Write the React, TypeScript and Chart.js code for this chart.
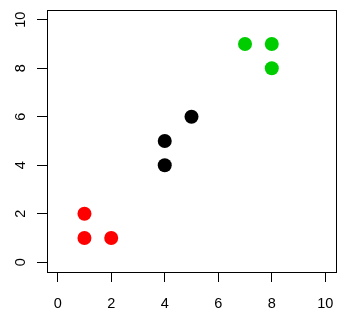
import React, { useEffect, useRef } from "react";
import { Chart, registerables } from "chart.js";

Chart.register(...registerables);

const redX = [1, 1, 2];
const redY = [1, 2, 1];
const blackX = [4, 4, 5];
const blackY = [4, 5, 6];
const greenX = [7, 8, 8];
const greenY = [9, 9, 8];
const tickValues = [0, 2, 4, 6, 8, 10];

const FONT = "14.5px 'Liberation Sans', Arial, sans-serif";

const toPts = (xs: number[], ys: number[]) => xs.map((x, i) => ({ x, y: ys[i] }));

const rStyle = {
  id: "rStyle",
  afterDraw(chart: any) {
    const { ctx, chartArea } = chart;
    const xs = chart.scales.x;
    const ys = chart.scales.y;
    ctx.save();
    ctx.strokeStyle = "#000";
    ctx.lineWidth = 1;
    ctx.strokeRect(
      Math.round(chartArea.left) + 0.5,
      Math.round(chartArea.top) + 0.5,
      Math.round(chartArea.right) - Math.round(chartArea.left),
      Math.round(chartArea.bottom) - Math.round(chartArea.top)
    );
    ctx.fillStyle = "#000";
    ctx.font = FONT;
    ctx.textAlign = "center";
    ctx.textBaseline = "middle";
    tickValues.forEach((v) => {
      ctx.fillText(String(v), xs.getPixelForValue(v), 303.5);
    });
    tickValues.forEach((v) => {
      ctx.save();
      ctx.translate(21, ys.getPixelForValue(v));
      ctx.rotate(-Math.PI / 2);
      ctx.fillText(String(v), 0, 0);
      ctx.restore();
    });
    ctx.restore();
  },
};

export default function App() {
  const ref = useRef<HTMLCanvasElement>(null);
  useEffect(() => {
    if (!ref.current) return;
    const chart = new Chart(ref.current, {
      type: "scatter",
      data: {
        datasets: [
          { data: toPts(redX, redY), backgroundColor: "#FF0000", borderColor: "#FF0000" },
          { data: toPts(blackX, blackY), backgroundColor: "#000000", borderColor: "#000000" },
          { data: toPts(greenX, greenY), backgroundColor: "#00CD00", borderColor: "#00CD00" },
        ],
      },
      options: {
        animation: false,
        responsive: false,
        devicePixelRatio: 1,
        layout: { padding: { top: 10, right: 14, left: 0, bottom: 0 } },
        elements: { point: { radius: 7, borderWidth: 0, hoverRadius: 7 } },
        plugins: { legend: { display: false }, tooltip: { enabled: false } },
        scales: {
          x: {
            type: "linear",
            min: -0.4,
            max: 10.4,
            afterBuildTicks: (s: any) => {
              s.ticks = tickValues.map((v) => ({ value: v }));
            },
            afterFit: (s: any) => {
              s.height = 44;
            },
            ticks: { display: false },
            grid: { drawOnChartArea: false, drawTicks: true, tickLength: 10, color: "#000", lineWidth: 1 },
            border: { display: true, color: "#000" },
          },
          y: {
            type: "linear",
            min: -0.4,
            max: 10.4,
            afterBuildTicks: (s: any) => {
              s.ticks = tickValues.map((v) => ({ value: v }));
            },
            afterFit: (s: any) => {
              s.width = 47;
            },
            ticks: { display: false },
            grid: { drawOnChartArea: false, drawTicks: true, tickLength: 10, color: "#000", lineWidth: 1 },
            border: { display: true, color: "#000" },
          },
        },
      },
      plugins: [rStyle],
    });
    return () => chart.destroy();
  }, []);
  return (
    <div style={{ position: "absolute", left: 0, top: 0, width: 350, height: 316, background: "#fff" }}>
      <canvas ref={ref} width={350} height={316} style={{ display: "block" }} />
    </div>
  );
}
